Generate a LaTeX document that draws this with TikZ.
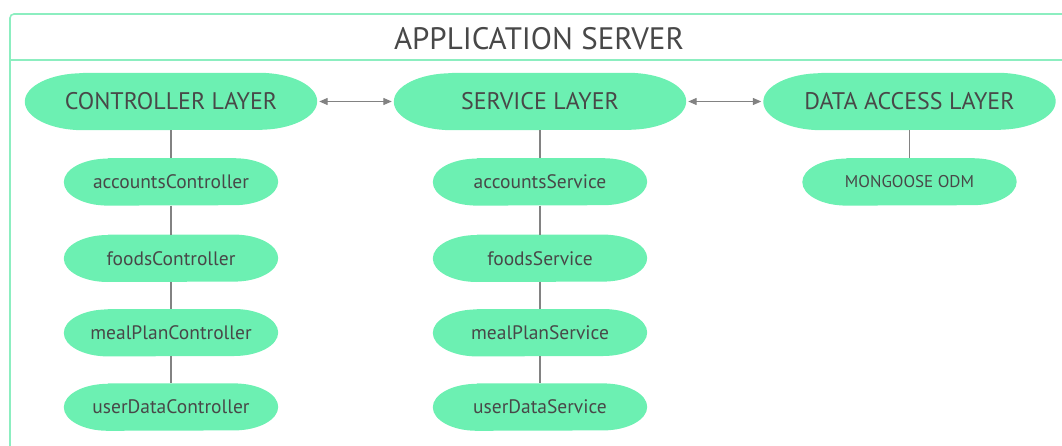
\documentclass[tikz,border=0pt]{standalone}
\usepackage{fontspec}
\setmainfont{PT Sans}
\usepackage{tikz}
\usetikzlibrary{shapes,arrows,arrows.meta,positioning,calc,backgrounds}
\definecolor{mintfill}{RGB}{108,240,178}
\definecolor{mintline}{RGB}{140,238,192}
\definecolor{labelgray}{RGB}{72,72,72}
\definecolor{linkgray}{RGB}{130,130,130}

% pill with stretched elliptic ends: #1 node, #2 end x radius, #3 end y radius
\newcommand{\pillfill}[3]{%
    \fill[mintfill] ([xshift=#2]#1.north west) -- ([xshift=-#2]#1.north east)
        arc[start angle=90, end angle=-90, x radius=#2, y radius=#3]
        -- ([xshift=#2]#1.south west)
        arc[start angle=270, end angle=90, x radius=#2, y radius=#3] -- cycle;}

\begin{document}
\begin{tikzpicture}[x=1pt, y=-1pt,
    layer/.style={rectangle, minimum width=292pt, minimum height=57pt, inner sep=0pt, text=labelgray, font=\fontsize{24}{24}\selectfont},
    part/.style={rectangle, minimum width=214pt, minimum height=47pt, inner sep=0pt, text=labelgray, font=\fontsize{19.5}{19.5}\selectfont},
    link/.style={draw=linkgray, line width=1.3pt},
    twoway/.style={link, {Triangle[length=8.5pt,width=7pt]}-{Triangle[length=8.5pt,width=7pt]}},
    node distance=28pt]
    \useasboundingbox (0,0) rectangle (1062,446);
    \clip (0,0) rectangle (1062,446);
    % server frame
    \draw[mintline, line width=1.6pt, rounded corners=4pt] (10,14) rectangle (1080,470);
    \draw[mintline, line width=1.6pt] (10,60) -- (1080,60);
    \node[text=labelgray, font=\fontsize{31}{31}\selectfont] (title) at (539,39) {APPLICATION SERVER};

    % layers
    \node[layer] (ctrl) at (171,101.5) {CONTROLLER LAYER};
    \node[layer] (svc) at (540,101.5) {SERVICE LAYER};
    \node[layer] (dal) at (909.5,101.5) {DATA ACCESS LAYER};

    \path (ctrl.east) ++(2,0) coordinate (c1) (svc.west) ++(-2,0) coordinate (s1);
    \path (svc.east) ++(2,0) coordinate (s2) (dal.west) ++(-2,0) coordinate (d1);
    \draw[twoway] (c1) -- (s1);
    \draw[twoway] (s2) -- (d1);

    % controllers
    \node[part, below=of ctrl] (accCtrl) {accountsController};
    \node[part, below=29pt of accCtrl] (foodCtrl) {foodsController};
    \node[part, below=27pt of foodCtrl] (mealCtrl) {mealPlanController};
    \node[part, below=27pt of mealCtrl] (userCtrl) {userDataController};
    \draw[link] (ctrl) -- (accCtrl) -- (foodCtrl) -- (mealCtrl) -- (userCtrl);

    % services
    \node[part, below=of svc] (accSvc) {accountsService};
    \node[part, below=29pt of accSvc] (foodSvc) {foodsService};
    \node[part, below=27pt of foodSvc] (mealSvc) {mealPlanService};
    \node[part, below=27pt of mealSvc] (userSvc) {userDataService};
    \draw[link] (svc) -- (accSvc) -- (foodSvc) -- (mealSvc) -- (userSvc);

    % data access
    \node[part, below=of dal, font=\fontsize{17}{17}\selectfont] (odm) {MONGOOSE ODM};
    \draw[link] (dal) -- (odm);

    \begin{scope}[on background layer]
        \foreach \n in {ctrl,svc,dal} {\pillfill{\n}{58pt}{28.5pt}}
        \foreach \n in {accCtrl,foodCtrl,mealCtrl,userCtrl,accSvc,foodSvc,mealSvc,userSvc,odm} {\pillfill{\n}{44pt}{23.5pt}}
    \end{scope}
\end{tikzpicture}
\end{document}
